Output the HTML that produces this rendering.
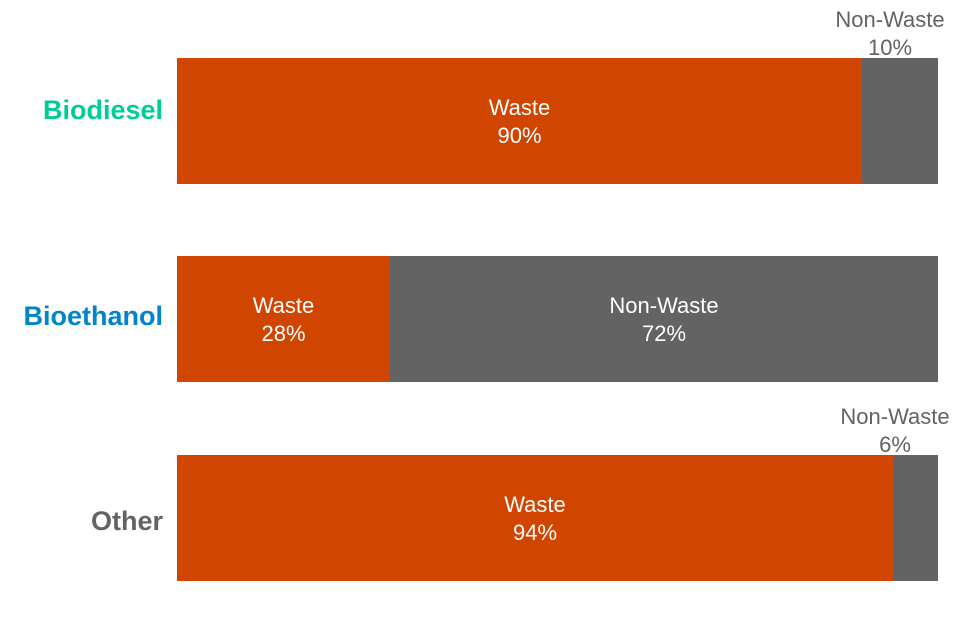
<!DOCTYPE html>
<html><head><style>
body{margin:0;width:960px;height:640px;background:#fff;position:relative;font-family:"Liberation Sans",Arial,sans-serif;overflow:hidden}
.b{position:absolute;height:126px}
.o{background:#D04500}.g{background:#636363}
.t{position:absolute;color:#fff;font-size:22px;line-height:28px;text-align:center}
.c{position:absolute;font-size:22px;line-height:28px;text-align:center;color:#636363}
.l{position:absolute;right:797px;font-weight:bold;font-size:27px;line-height:30px;text-align:right}
</style></head><body>
<div class="l" style="top:95px;color:#00CC9A">Biodiesel</div>
<div class="l" style="top:301px;color:#0085CC">Bioethanol</div>
<div class="l" style="top:506px;color:#636363">Other</div>

<div class="b o" style="left:177px;top:58px;width:685px"></div>
<div class="b g" style="left:862px;top:58px;width:76px"></div>
<div class="t" style="left:177px;width:685px;top:94px">Waste<br>90%</div>
<div class="c" style="left:810px;width:160px;top:6px">Non-Waste<br>10%</div>

<div class="b o" style="left:177px;top:256px;width:213px"></div>
<div class="b g" style="left:390px;top:256px;width:548px"></div>
<div class="t" style="left:177px;width:213px;top:292px">Waste<br>28%</div>
<div class="t" style="left:390px;width:548px;top:292px">Non-Waste<br>72%</div>

<div class="b o" style="left:177px;top:455px;width:716px"></div>
<div class="b g" style="left:893px;top:455px;width:45px"></div>
<div class="t" style="left:177px;width:716px;top:491px">Waste<br>94%</div>
<div class="c" style="left:815px;width:160px;top:403px">Non-Waste<br>6%</div>
</body></html>
